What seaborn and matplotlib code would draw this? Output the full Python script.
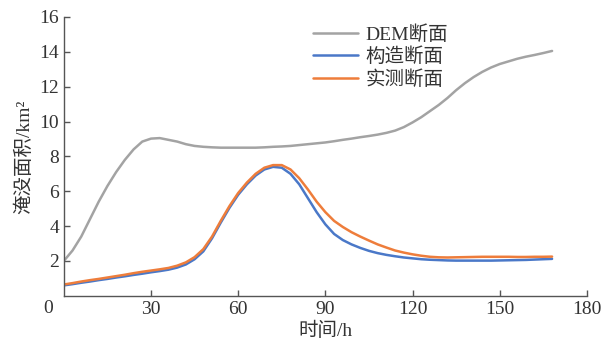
import matplotlib
matplotlib.use("Agg")
import matplotlib.pyplot as plt
import seaborn as sns
import pandas as pd

# 时间 (h)
hours = list(range(0, 169, 3))

# 淹没面积 (km2)
dem = [2.0, 2.6, 3.4, 4.4, 5.4, 6.3, 7.1, 7.8, 8.4, 8.85, 9.02, 9.05, 8.95,
       8.85, 8.7, 8.6, 8.55, 8.52, 8.5, 8.5, 8.5, 8.5, 8.5, 8.52, 8.55, 8.57,
       8.6, 8.65, 8.7, 8.75, 8.8, 8.87, 8.95, 9.02, 9.1, 9.17, 9.25, 9.35,
       9.48, 9.68, 9.95, 10.25, 10.6, 10.95, 11.35, 11.8, 12.2, 12.55, 12.85,
       13.1, 13.3, 13.45, 13.6, 13.72, 13.82, 13.93, 14.05]
gouzao = [0.6, 0.67, 0.75, 0.82, 0.9, 0.97, 1.05, 1.12, 1.2, 1.27, 1.35, 1.42,
          1.5, 1.62, 1.8, 2.1, 2.55, 3.3, 4.2, 5.05, 5.8, 6.4, 6.9, 7.25, 7.4,
          7.35, 7.0, 6.4, 5.6, 4.8, 4.1, 3.55, 3.2, 2.95, 2.75, 2.58, 2.45,
          2.35, 2.27, 2.2, 2.15, 2.1, 2.07, 2.05, 2.03, 2.02, 2.02, 2.02, 2.02,
          2.02, 2.03, 2.04, 2.05, 2.06, 2.08, 2.1, 2.12]
shice = [0.65, 0.73, 0.82, 0.9, 0.97, 1.05, 1.13, 1.21, 1.3, 1.38, 1.45, 1.52,
         1.6, 1.73, 1.92, 2.22, 2.68, 3.4, 4.3, 5.15, 5.9, 6.5, 7.0, 7.35, 7.5,
         7.5, 7.25, 6.75, 6.1, 5.4, 4.8, 4.3, 3.95, 3.65, 3.4, 3.17, 2.95,
         2.77, 2.6, 2.48, 2.38, 2.3, 2.24, 2.21, 2.2, 2.21, 2.22, 2.23, 2.24,
         2.24, 2.24, 2.24, 2.23, 2.23, 2.24, 2.24, 2.25]

names = ["DEM断面", "构造断面", "实测断面"]
colors = ["#a3a3a3", "#4a78c8", "#ee7d3b"]

sns.set_style("white")
plt.rcParams['font.family'] = ['Liberation Serif', 'Noto Sans CJK SC']
plt.rcParams['axes.unicode_minus'] = False

n = len(hours)
df = pd.DataFrame({"时间": hours * 3,
                   "面积": dem + gouzao + shice,
                   "断面": [names[0]] * n + [names[1]] * n + [names[2]] * n})

fig = plt.figure(figsize=(6.02, 3.46), dpi=100)
ax = fig.add_axes([0.106, 0.145, 0.869, 0.806])
sns.lineplot(data=df, x="时间", y="面积", hue="断面", palette=colors,
             linewidth=1.8, ax=ax)

ax.set_xlim(0, 180)
ax.set_ylim(0, 16)
ax.set_xticks([30, 60, 90, 120, 150, 180])
ax.set_yticks([2, 4, 6, 8, 10, 12, 14, 16])
ax.text(-0.02, -0.045, "0", transform=ax.transAxes, fontsize=14,
        ha="right", va="center", color="#333333")
ax.tick_params(bottom=True, left=True, direction="in", length=4, width=1,
               colors="#555555", labelcolor="#333333", labelsize=14)
for s in ["top", "right"]:
    ax.spines[s].set_visible(False)
for s in ["left", "bottom"]:
    ax.spines[s].set_color("#555555")
    ax.spines[s].set_linewidth(1)

ax.set_xlabel("时间/h", fontsize=14, color="#333333", labelpad=3)
ax.set_ylabel("淹没面积/km²", fontsize=14, color="#333333", labelpad=4)

leg = ax.legend(loc="upper left", bbox_to_anchor=(0.462, 1.0), frameon=False,
                fontsize=14, handlelength=2.3, handletextpad=0.4,
                labelspacing=0.2, borderaxespad=0)
for t in leg.get_texts():
    t.set_color("#333333")

fig.savefig("out.png", dpi=100)
